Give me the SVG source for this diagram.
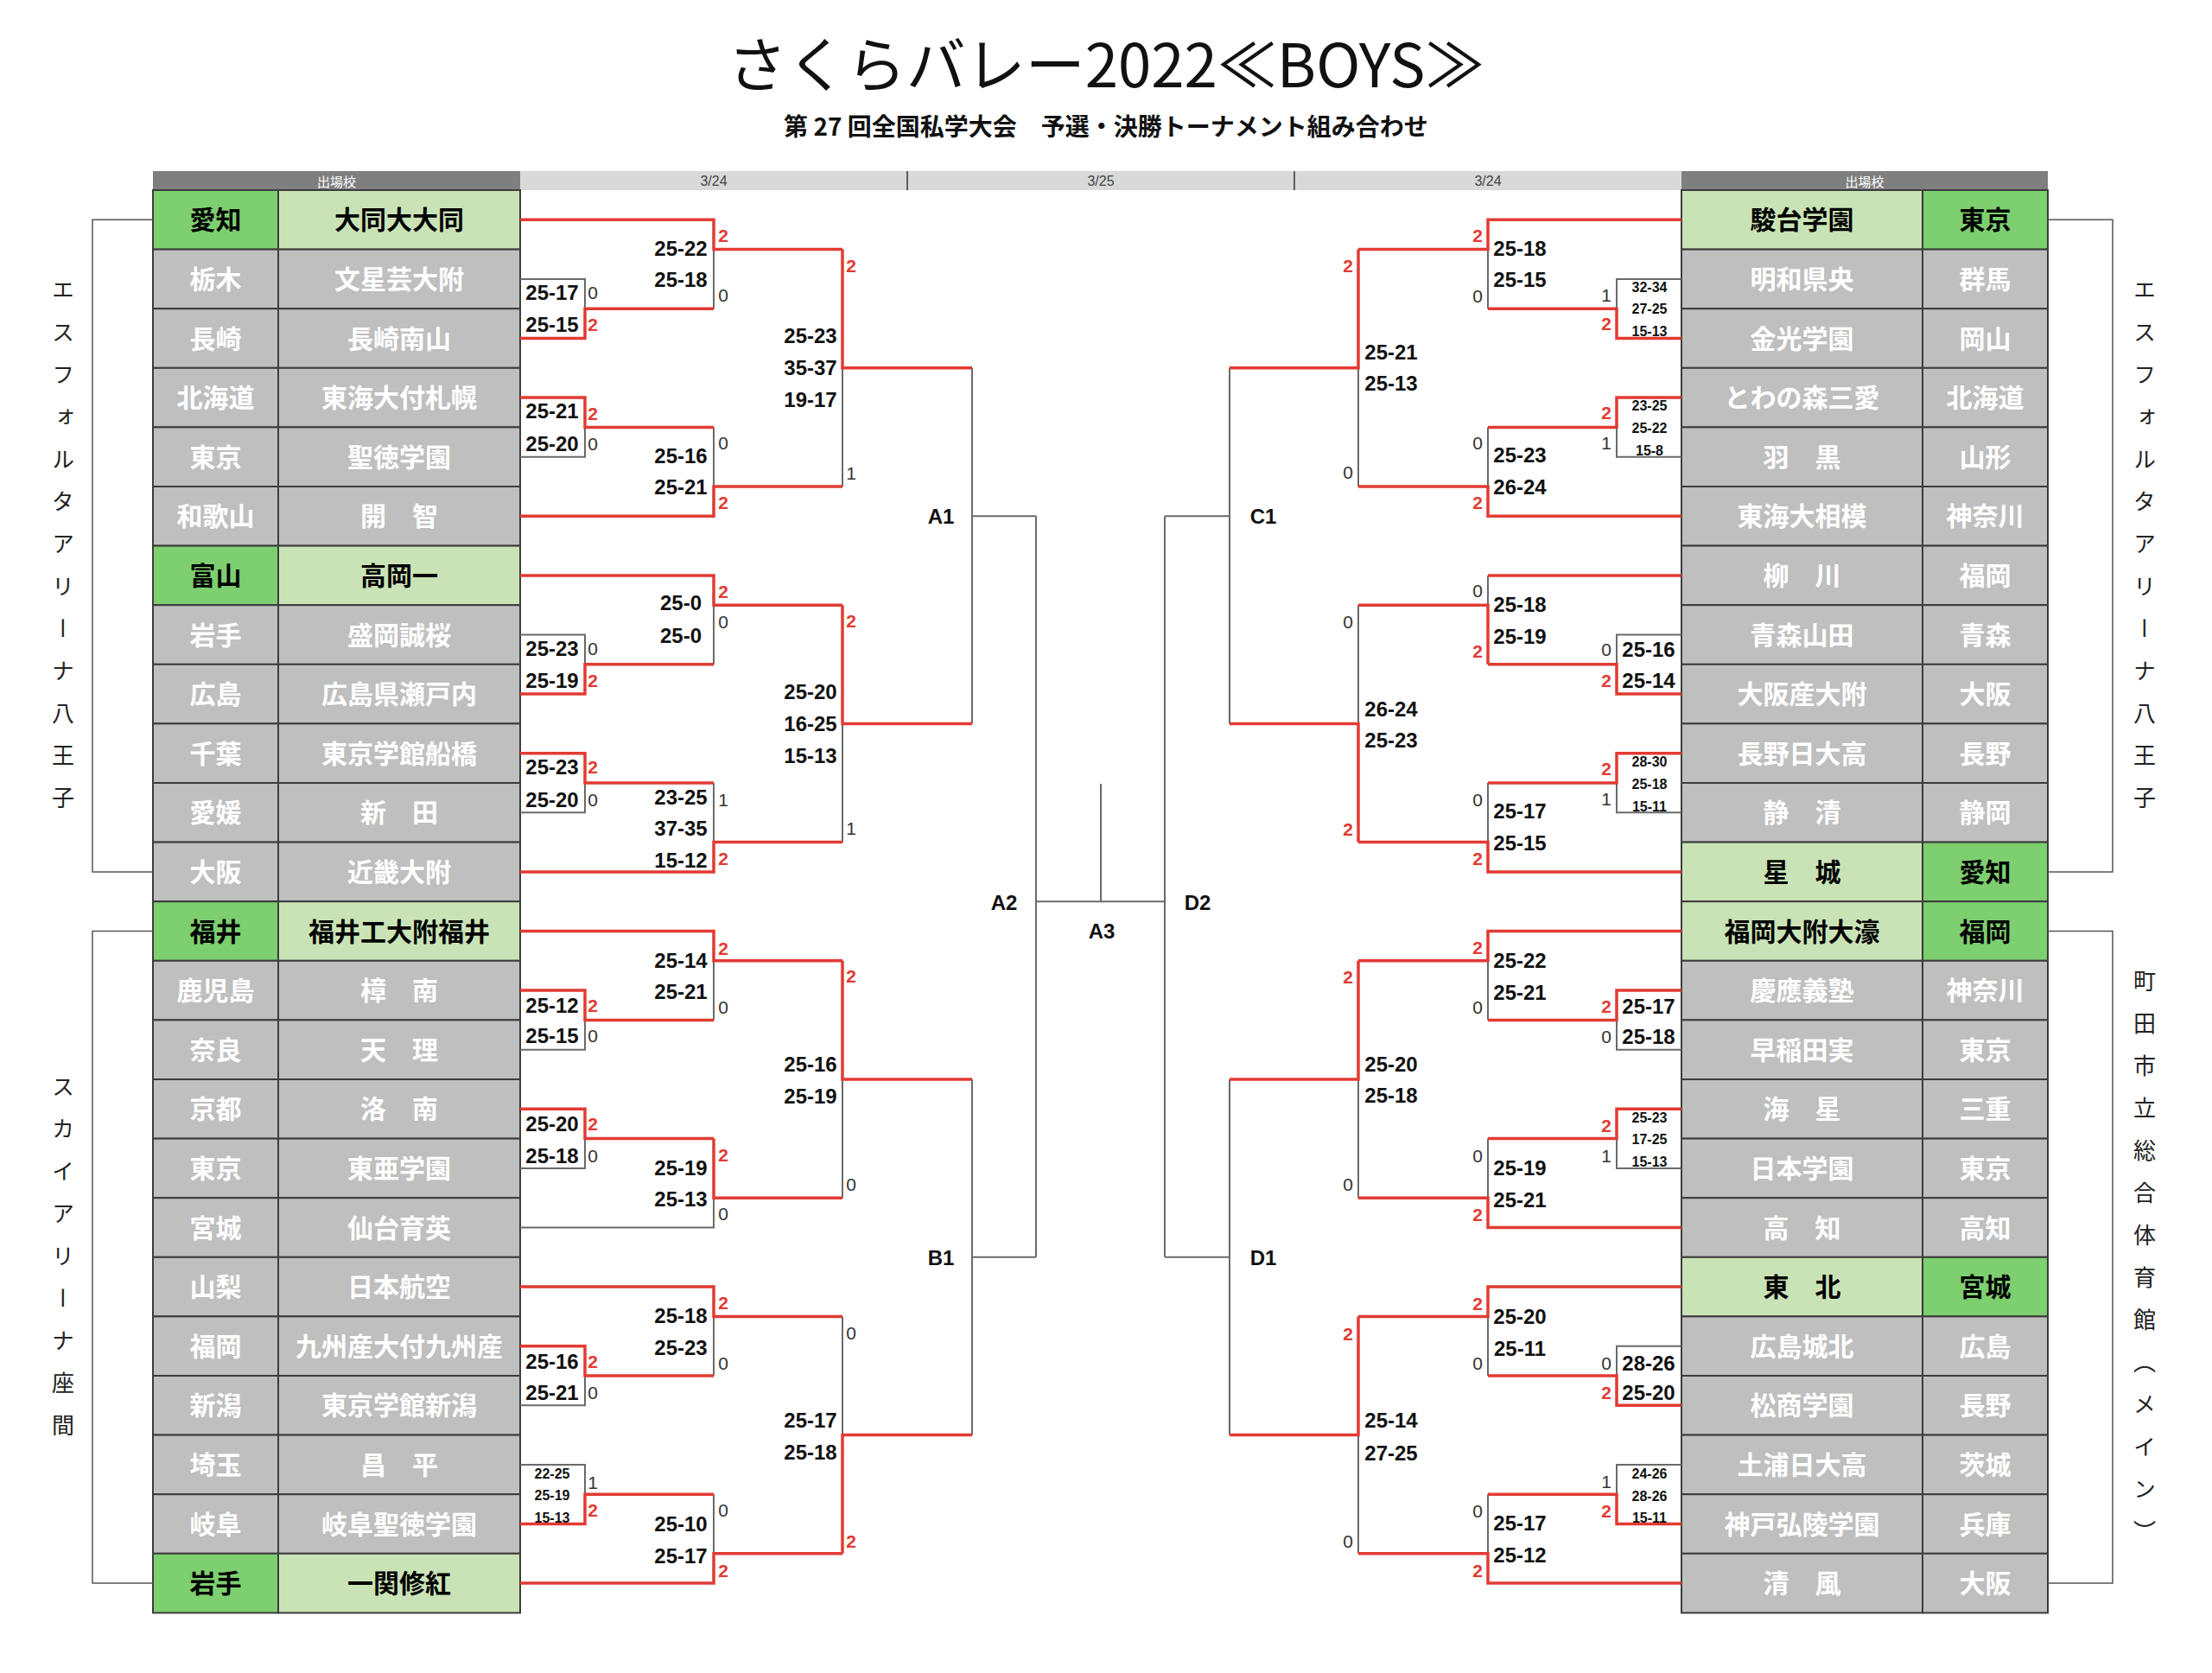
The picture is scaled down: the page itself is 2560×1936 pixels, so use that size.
<svg xmlns="http://www.w3.org/2000/svg" width="2560" height="1936" viewBox="0 0 2560 1936">
<style>
.bg{fill:#fff}
.hd{fill:#7f7f7f}
.hl{fill:#d9d9d9}
.ht{font-family:"Noto Sans CJK JP",sans-serif;font-size:15px;fill:#fff;text-anchor:middle;dominant-baseline:central}
.hd2{font-family:"Liberation Sans",Arial,sans-serif;font-size:16px;fill:#444;text-anchor:middle;dominant-baseline:central}
.pg{fill:#bfbfbf;stroke:#3c3c3c;stroke-width:2}
.ps{fill:#7dcf6f;stroke:#3c3c3c;stroke-width:2}
.ns{fill:#c9e3b6;stroke:#3c3c3c;stroke-width:2}
.tw{font-family:"Noto Sans CJK JP",sans-serif;font-weight:700;font-size:30px;fill:#fff;text-anchor:middle;dominant-baseline:central}
.tb{font-family:"Noto Sans CJK JP",sans-serif;font-weight:700;font-size:30px;fill:#000;text-anchor:middle;dominant-baseline:central}
.tm text{transform:translateY(-2px)}
.r{fill:none;stroke:#e23b33;stroke-width:3.5}
.g{fill:none;stroke:#6a6a6a;stroke-width:2}
.k{fill:none;stroke:#555;stroke-width:1.5}
.s{font-family:"Liberation Sans",Arial,sans-serif;font-weight:700;font-size:24px;fill:#111;text-anchor:middle;dominant-baseline:central}
.ss{font-family:"Liberation Sans",Arial,sans-serif;font-weight:700;font-size:16px;fill:#111;text-anchor:middle;dominant-baseline:central}
.w{font-family:"Liberation Sans",Arial,sans-serif;font-weight:700;font-size:21px;fill:#e23b33;text-anchor:middle;dominant-baseline:central}
.l{font-family:"Liberation Sans",Arial,sans-serif;font-size:21px;fill:#333;text-anchor:middle;dominant-baseline:central}
.lb{font-family:"Liberation Sans",Arial,sans-serif;font-weight:700;font-size:24px;fill:#111;text-anchor:middle;dominant-baseline:central}
.v{font-family:"Noto Sans CJK JP",sans-serif;font-size:26px;fill:#222;writing-mode:vertical-rl;letter-spacing:23px}
</style>
<rect class="bg" x="0" y="0" width="2560" height="1936"/>
<g id="title">
<text x="1280" y="101" font-family="Noto Sans CJK JP, sans-serif" font-size="69" fill="#111" text-anchor="middle">さくらバレー2022≪BOYS≫</text>
<text x="1280" y="157" font-family="Noto Sans CJK JP, sans-serif" font-weight="700" font-size="28" fill="#111" text-anchor="middle">第 27 回全国私学大会　予選・決勝トーナメント組み合わせ</text>
</g>
<g id="header">
<rect class="hd" x="177" y="198" width="425" height="22"/>
<rect class="hl" x="602" y="198" width="1344" height="22"/>
<rect class="hd" x="1946" y="198" width="424" height="22"/>
<line x1="1050" y1="198" x2="1050" y2="220" stroke="#333" stroke-width="1.5"/>
<line x1="1498" y1="198" x2="1498" y2="220" stroke="#333" stroke-width="1.5"/>
<text class="ht" x="389.5" y="209">出場校</text>
<text class="hd2" x="826" y="209">3/24</text>
<text class="hd2" x="1274" y="209">3/25</text>
<text class="hd2" x="1722" y="209">3/24</text>
<text class="ht" x="2158" y="209">出場校</text>
</g>
<g id="left-teams" class="tm">
<g id="L01"><rect class="ps" x="177" y="220" width="145" height="68.6"/><rect class="ns" x="322" y="220" width="280" height="68.6"/><text class="tb" x="249.5" y="254.3">愛知</text><text class="tb" x="462" y="254.3">大同大大同</text></g>
<g id="L02"><rect class="pg" x="177" y="288.6" width="145" height="68.6"/><rect class="pg" x="322" y="288.6" width="280" height="68.6"/><text class="tw" x="249.5" y="322.9">栃木</text><text class="tw" x="462" y="322.9">文星芸大附</text></g>
<g id="L03"><rect class="pg" x="177" y="357.2" width="145" height="68.6"/><rect class="pg" x="322" y="357.2" width="280" height="68.6"/><text class="tw" x="249.5" y="391.5">長崎</text><text class="tw" x="462" y="391.5">長崎南山</text></g>
<g id="L04"><rect class="pg" x="177" y="425.8" width="145" height="68.6"/><rect class="pg" x="322" y="425.8" width="280" height="68.6"/><text class="tw" x="249.5" y="460.1">北海道</text><text class="tw" x="462" y="460.1">東海大付札幌</text></g>
<g id="L05"><rect class="pg" x="177" y="494.4" width="145" height="68.6"/><rect class="pg" x="322" y="494.4" width="280" height="68.6"/><text class="tw" x="249.5" y="528.7">東京</text><text class="tw" x="462" y="528.7">聖徳学園</text></g>
<g id="L06"><rect class="pg" x="177" y="563" width="145" height="68.6"/><rect class="pg" x="322" y="563" width="280" height="68.6"/><text class="tw" x="249.5" y="597.3">和歌山</text><text class="tw" x="462" y="597.3">開　智</text></g>
<g id="L07"><rect class="ps" x="177" y="631.6" width="145" height="68.6"/><rect class="ns" x="322" y="631.6" width="280" height="68.6"/><text class="tb" x="249.5" y="665.9">富山</text><text class="tb" x="462" y="665.9">高岡一</text></g>
<g id="L08"><rect class="pg" x="177" y="700.2" width="145" height="68.6"/><rect class="pg" x="322" y="700.2" width="280" height="68.6"/><text class="tw" x="249.5" y="734.5">岩手</text><text class="tw" x="462" y="734.5">盛岡誠桜</text></g>
<g id="L09"><rect class="pg" x="177" y="768.8" width="145" height="68.6"/><rect class="pg" x="322" y="768.8" width="280" height="68.6"/><text class="tw" x="249.5" y="803.1">広島</text><text class="tw" x="462" y="803.1">広島県瀬戸内</text></g>
<g id="L10"><rect class="pg" x="177" y="837.4" width="145" height="68.6"/><rect class="pg" x="322" y="837.4" width="280" height="68.6"/><text class="tw" x="249.5" y="871.7">千葉</text><text class="tw" x="462" y="871.7">東京学館船橋</text></g>
<g id="L11"><rect class="pg" x="177" y="906" width="145" height="68.6"/><rect class="pg" x="322" y="906" width="280" height="68.6"/><text class="tw" x="249.5" y="940.3">愛媛</text><text class="tw" x="462" y="940.3">新　田</text></g>
<g id="L12"><rect class="pg" x="177" y="974.6" width="145" height="68.6"/><rect class="pg" x="322" y="974.6" width="280" height="68.6"/><text class="tw" x="249.5" y="1008.9">大阪</text><text class="tw" x="462" y="1008.9">近畿大附</text></g>
<g id="L13"><rect class="ps" x="177" y="1043.2" width="145" height="68.6"/><rect class="ns" x="322" y="1043.2" width="280" height="68.6"/><text class="tb" x="249.5" y="1077.5">福井</text><text class="tb" x="462" y="1077.5">福井工大附福井</text></g>
<g id="L14"><rect class="pg" x="177" y="1111.8" width="145" height="68.6"/><rect class="pg" x="322" y="1111.8" width="280" height="68.6"/><text class="tw" x="249.5" y="1146.1">鹿児島</text><text class="tw" x="462" y="1146.1">樟　南</text></g>
<g id="L15"><rect class="pg" x="177" y="1180.4" width="145" height="68.6"/><rect class="pg" x="322" y="1180.4" width="280" height="68.6"/><text class="tw" x="249.5" y="1214.7">奈良</text><text class="tw" x="462" y="1214.7">天　理</text></g>
<g id="L16"><rect class="pg" x="177" y="1249" width="145" height="68.6"/><rect class="pg" x="322" y="1249" width="280" height="68.6"/><text class="tw" x="249.5" y="1283.3">京都</text><text class="tw" x="462" y="1283.3">洛　南</text></g>
<g id="L17"><rect class="pg" x="177" y="1317.6" width="145" height="68.6"/><rect class="pg" x="322" y="1317.6" width="280" height="68.6"/><text class="tw" x="249.5" y="1351.9">東京</text><text class="tw" x="462" y="1351.9">東亜学園</text></g>
<g id="L18"><rect class="pg" x="177" y="1386.2" width="145" height="68.6"/><rect class="pg" x="322" y="1386.2" width="280" height="68.6"/><text class="tw" x="249.5" y="1420.5">宮城</text><text class="tw" x="462" y="1420.5">仙台育英</text></g>
<g id="L19"><rect class="pg" x="177" y="1454.8" width="145" height="68.6"/><rect class="pg" x="322" y="1454.8" width="280" height="68.6"/><text class="tw" x="249.5" y="1489.1">山梨</text><text class="tw" x="462" y="1489.1">日本航空</text></g>
<g id="L20"><rect class="pg" x="177" y="1523.4" width="145" height="68.6"/><rect class="pg" x="322" y="1523.4" width="280" height="68.6"/><text class="tw" x="249.5" y="1557.7">福岡</text><text class="tw" x="462" y="1557.7">九州産大付九州産</text></g>
<g id="L21"><rect class="pg" x="177" y="1592" width="145" height="68.6"/><rect class="pg" x="322" y="1592" width="280" height="68.6"/><text class="tw" x="249.5" y="1626.3">新潟</text><text class="tw" x="462" y="1626.3">東京学館新潟</text></g>
<g id="L22"><rect class="pg" x="177" y="1660.6" width="145" height="68.6"/><rect class="pg" x="322" y="1660.6" width="280" height="68.6"/><text class="tw" x="249.5" y="1694.9">埼玉</text><text class="tw" x="462" y="1694.9">昌　平</text></g>
<g id="L23"><rect class="pg" x="177" y="1729.2" width="145" height="68.6"/><rect class="pg" x="322" y="1729.2" width="280" height="68.6"/><text class="tw" x="249.5" y="1763.5">岐阜</text><text class="tw" x="462" y="1763.5">岐阜聖徳学園</text></g>
<g id="L24"><rect class="ps" x="177" y="1797.8" width="145" height="68.6"/><rect class="ns" x="322" y="1797.8" width="280" height="68.6"/><text class="tb" x="249.5" y="1832.1">岩手</text><text class="tb" x="462" y="1832.1">一関修紅</text></g>
</g>
<g id="right-teams" class="tm">
<g id="R01"><rect class="ns" x="1946" y="220" width="279" height="68.6"/><rect class="ps" x="2225" y="220" width="145" height="68.6"/><text class="tb" x="2085.5" y="254.3">駿台学園</text><text class="tb" x="2297.5" y="254.3">東京</text></g>
<g id="R02"><rect class="pg" x="1946" y="288.6" width="279" height="68.6"/><rect class="pg" x="2225" y="288.6" width="145" height="68.6"/><text class="tw" x="2085.5" y="322.9">明和県央</text><text class="tw" x="2297.5" y="322.9">群馬</text></g>
<g id="R03"><rect class="pg" x="1946" y="357.2" width="279" height="68.6"/><rect class="pg" x="2225" y="357.2" width="145" height="68.6"/><text class="tw" x="2085.5" y="391.5">金光学園</text><text class="tw" x="2297.5" y="391.5">岡山</text></g>
<g id="R04"><rect class="pg" x="1946" y="425.8" width="279" height="68.6"/><rect class="pg" x="2225" y="425.8" width="145" height="68.6"/><text class="tw" x="2085.5" y="460.1">とわの森三愛</text><text class="tw" x="2297.5" y="460.1">北海道</text></g>
<g id="R05"><rect class="pg" x="1946" y="494.4" width="279" height="68.6"/><rect class="pg" x="2225" y="494.4" width="145" height="68.6"/><text class="tw" x="2085.5" y="528.7">羽　黒</text><text class="tw" x="2297.5" y="528.7">山形</text></g>
<g id="R06"><rect class="pg" x="1946" y="563" width="279" height="68.6"/><rect class="pg" x="2225" y="563" width="145" height="68.6"/><text class="tw" x="2085.5" y="597.3">東海大相模</text><text class="tw" x="2297.5" y="597.3">神奈川</text></g>
<g id="R07"><rect class="pg" x="1946" y="631.6" width="279" height="68.6"/><rect class="pg" x="2225" y="631.6" width="145" height="68.6"/><text class="tw" x="2085.5" y="665.9">柳　川</text><text class="tw" x="2297.5" y="665.9">福岡</text></g>
<g id="R08"><rect class="pg" x="1946" y="700.2" width="279" height="68.6"/><rect class="pg" x="2225" y="700.2" width="145" height="68.6"/><text class="tw" x="2085.5" y="734.5">青森山田</text><text class="tw" x="2297.5" y="734.5">青森</text></g>
<g id="R09"><rect class="pg" x="1946" y="768.8" width="279" height="68.6"/><rect class="pg" x="2225" y="768.8" width="145" height="68.6"/><text class="tw" x="2085.5" y="803.1">大阪産大附</text><text class="tw" x="2297.5" y="803.1">大阪</text></g>
<g id="R10"><rect class="pg" x="1946" y="837.4" width="279" height="68.6"/><rect class="pg" x="2225" y="837.4" width="145" height="68.6"/><text class="tw" x="2085.5" y="871.7">長野日大高</text><text class="tw" x="2297.5" y="871.7">長野</text></g>
<g id="R11"><rect class="pg" x="1946" y="906" width="279" height="68.6"/><rect class="pg" x="2225" y="906" width="145" height="68.6"/><text class="tw" x="2085.5" y="940.3">静　清</text><text class="tw" x="2297.5" y="940.3">静岡</text></g>
<g id="R12"><rect class="ns" x="1946" y="974.6" width="279" height="68.6"/><rect class="ps" x="2225" y="974.6" width="145" height="68.6"/><text class="tb" x="2085.5" y="1008.9">星　城</text><text class="tb" x="2297.5" y="1008.9">愛知</text></g>
<g id="R13"><rect class="ns" x="1946" y="1043.2" width="279" height="68.6"/><rect class="ps" x="2225" y="1043.2" width="145" height="68.6"/><text class="tb" x="2085.5" y="1077.5">福岡大附大濠</text><text class="tb" x="2297.5" y="1077.5">福岡</text></g>
<g id="R14"><rect class="pg" x="1946" y="1111.8" width="279" height="68.6"/><rect class="pg" x="2225" y="1111.8" width="145" height="68.6"/><text class="tw" x="2085.5" y="1146.1">慶應義塾</text><text class="tw" x="2297.5" y="1146.1">神奈川</text></g>
<g id="R15"><rect class="pg" x="1946" y="1180.4" width="279" height="68.6"/><rect class="pg" x="2225" y="1180.4" width="145" height="68.6"/><text class="tw" x="2085.5" y="1214.7">早稲田実</text><text class="tw" x="2297.5" y="1214.7">東京</text></g>
<g id="R16"><rect class="pg" x="1946" y="1249" width="279" height="68.6"/><rect class="pg" x="2225" y="1249" width="145" height="68.6"/><text class="tw" x="2085.5" y="1283.3">海　星</text><text class="tw" x="2297.5" y="1283.3">三重</text></g>
<g id="R17"><rect class="pg" x="1946" y="1317.6" width="279" height="68.6"/><rect class="pg" x="2225" y="1317.6" width="145" height="68.6"/><text class="tw" x="2085.5" y="1351.9">日本学園</text><text class="tw" x="2297.5" y="1351.9">東京</text></g>
<g id="R18"><rect class="pg" x="1946" y="1386.2" width="279" height="68.6"/><rect class="pg" x="2225" y="1386.2" width="145" height="68.6"/><text class="tw" x="2085.5" y="1420.5">高　知</text><text class="tw" x="2297.5" y="1420.5">高知</text></g>
<g id="R19"><rect class="ns" x="1946" y="1454.8" width="279" height="68.6"/><rect class="ps" x="2225" y="1454.8" width="145" height="68.6"/><text class="tb" x="2085.5" y="1489.1">東　北</text><text class="tb" x="2297.5" y="1489.1">宮城</text></g>
<g id="R20"><rect class="pg" x="1946" y="1523.4" width="279" height="68.6"/><rect class="pg" x="2225" y="1523.4" width="145" height="68.6"/><text class="tw" x="2085.5" y="1557.7">広島城北</text><text class="tw" x="2297.5" y="1557.7">広島</text></g>
<g id="R21"><rect class="pg" x="1946" y="1592" width="279" height="68.6"/><rect class="pg" x="2225" y="1592" width="145" height="68.6"/><text class="tw" x="2085.5" y="1626.3">松商学園</text><text class="tw" x="2297.5" y="1626.3">長野</text></g>
<g id="R22"><rect class="pg" x="1946" y="1660.6" width="279" height="68.6"/><rect class="pg" x="2225" y="1660.6" width="145" height="68.6"/><text class="tw" x="2085.5" y="1694.9">土浦日大高</text><text class="tw" x="2297.5" y="1694.9">茨城</text></g>
<g id="R23"><rect class="pg" x="1946" y="1729.2" width="279" height="68.6"/><rect class="pg" x="2225" y="1729.2" width="145" height="68.6"/><text class="tw" x="2085.5" y="1763.5">神戸弘陵学園</text><text class="tw" x="2297.5" y="1763.5">兵庫</text></g>
<g id="R24"><rect class="pg" x="1946" y="1797.8" width="279" height="68.6"/><rect class="pg" x="2225" y="1797.8" width="145" height="68.6"/><text class="tw" x="2085.5" y="1832.1">清　風</text><text class="tw" x="2297.5" y="1832.1">大阪</text></g>
</g>
<g id="connectors">
<path class="k" d="M177,254.3H107V1008.9H177M177,1077.5H107V1832.1H177M2370,254.3H2445V1008.9H2370M2370,1077.5H2445V1832.1H2370"/>
<path class="g" d="M602,322.9H677V357.2M826,288.6V357.2M602,528.7H677V494.4M826,494.4V563M975,425.8V563
M602,734.5H677V768.8M826,700.2V768.8M602,940.3H677V906M826,906V974.6M975,837.4V974.6
M602,1214.7H677V1180.4M826,1111.8V1180.4M602,1351.9H677V1317.6M602,1420.5H826V1386.2M975,1249V1386.2
M602,1626.3H677V1592M826,1523.4V1592M602,1694.9H677V1729.2M826,1729.2V1797.8M975,1523.4V1660.6
M1125,425.8V837.4M1125,597.3H1199M1125,1249V1660.6M1125,1454.8H1199M1199,597.3V1454.8M1199,1043.2H1348M1274,907V1043.2M1348,597.3V1454.8M1348,597.3H1423M1423,425.8V837.4M1348,1454.8H1423M1423,1249V1660.6
M1722,288.6V357.2M1946,322.9H1871V357.2M1946,528.7H1871V494.4M1722,494.4V563M1572,425.8V563
M1946,734.5H1871V768.8M1722,665.9V700.2M1946,940.3H1871V906M1722,906V974.6M1572,700.2V837.4
M1722,1111.8V1180.4M1946,1214.7H1871V1180.4M1946,1351.9H1871V1317.6M1722,1317.6V1386.2M1572,1249V1386.2
M1722,1523.4V1592M1946,1557.7H1871V1592M1946,1694.9H1871V1729.2M1722,1729.2V1797.8M1572,1660.6V1797.8"/>
<path class="r" d="M602,391.5H677V357.2H826M602,254.3H826V288.6H975M602,460.1H677V494.4H826M602,597.3H826V563H975M975,288.6V425.8H1125
M602,803.1H677V768.8H826M602,665.9H826V700.2H975M602,871.7H677V906H826M602,1008.9H826V974.6H975M975,700.2V837.4H1125
M602,1146.1H677V1180.4H826M602,1077.5H826V1111.8H975M602,1283.3H677V1317.6H826M826,1317.6V1386.2H975M975,1111.8V1249H1125
M602,1557.7H677V1592H826M602,1489.1H826V1523.4H975M602,1763.5H677V1729.2H826M602,1832.1H826V1797.8H975M975,1797.8V1660.6H1125
M1946,254.3H1722V288.6H1572M1946,391.5H1871V357.2H1722M1946,460.1H1871V494.4H1722M1946,597.3H1722V563H1572M1572,288.6V425.8H1423
M1946,803.1H1871V768.8H1722M1946,665.9H1722M1722,768.8V700.2H1572M1946,871.7H1871V906H1722M1946,1008.9H1722V974.6H1572M1572,974.6V837.4H1423
M1946,1077.5H1722V1111.8H1572M1946,1146.1H1871V1180.4H1722M1946,1283.3H1871V1317.6H1722M1946,1420.5H1722V1386.2H1572M1572,1111.8V1249H1423
M1946,1489.1H1722V1523.4H1572M1946,1626.3H1871V1592H1722M1946,1763.5H1871V1729.2H1722M1946,1832.1H1722V1797.8H1572M1572,1523.4V1660.6H1423"/>
</g>
<g id="left-scores">
<g id="LG1">
<text class="s" x="639" y="338">25-17</text><text class="s" x="639" y="375">25-15</text><text class="l" x="686" y="338">0</text><text class="w" x="686" y="375">2</text>
<text class="s" x="788" y="287">25-22</text><text class="s" x="788" y="323">25-18</text><text class="w" x="837" y="272">2</text><text class="l" x="837" y="341">0</text>
<text class="s" x="639" y="475">25-21</text><text class="s" x="639" y="513">25-20</text><text class="w" x="686" y="478">2</text><text class="l" x="686" y="513">0</text>
<text class="s" x="788" y="527">25-16</text><text class="s" x="788" y="563">25-21</text><text class="l" x="837" y="512">0</text><text class="w" x="837" y="581">2</text>
<text class="s" x="938" y="388">25-23</text><text class="s" x="938" y="425">35-37</text><text class="s" x="938" y="462">19-17</text><text class="w" x="985" y="307">2</text><text class="l" x="985" y="547">1</text>
</g>
<g id="LG2">
<text class="s" x="788" y="697">25-0</text><text class="s" x="788" y="735">25-0</text><text class="w" x="837" y="684">2</text><text class="l" x="837" y="719">0</text>
<text class="s" x="639" y="750">25-23</text><text class="s" x="639" y="787">25-19</text><text class="l" x="686" y="750">0</text><text class="w" x="686" y="787">2</text>
<text class="s" x="639" y="887">25-23</text><text class="s" x="639" y="925">25-20</text><text class="w" x="686" y="887">2</text><text class="l" x="686" y="925">0</text>
<text class="s" x="788" y="922">23-25</text><text class="s" x="788" y="958">37-35</text><text class="s" x="788" y="995">15-12</text><text class="l" x="837" y="925">1</text><text class="w" x="837" y="993">2</text>
<text class="s" x="938" y="800">25-20</text><text class="s" x="938" y="837">16-25</text><text class="s" x="938" y="874">15-13</text><text class="w" x="985" y="718">2</text><text class="l" x="985" y="958">1</text>
</g>
<g id="LG3">
<text class="s" x="788" y="1111">25-14</text><text class="s" x="788" y="1147">25-21</text><text class="w" x="837" y="1097">2</text><text class="l" x="837" y="1165">0</text>
<text class="s" x="639" y="1163">25-12</text><text class="s" x="639" y="1198">25-15</text><text class="w" x="686" y="1163">2</text><text class="l" x="686" y="1198">0</text>
<text class="s" x="938" y="1231">25-16</text><text class="s" x="938" y="1268">25-19</text><text class="w" x="985" y="1129">2</text><text class="l" x="985" y="1370">0</text>
<text class="s" x="639" y="1300">25-20</text><text class="s" x="639" y="1337">25-18</text><text class="w" x="686" y="1300">2</text><text class="l" x="686" y="1337">0</text>
<text class="s" x="788" y="1351">25-19</text><text class="s" x="788" y="1387">25-13</text><text class="w" x="837" y="1336">2</text><text class="l" x="837" y="1404">0</text>
</g>
<g id="LG4">
<text class="s" x="788" y="1522">25-18</text><text class="s" x="788" y="1559">25-23</text><text class="w" x="837" y="1507">2</text><text class="l" x="837" y="1577">0</text>
<text class="s" x="639" y="1575">25-16</text><text class="s" x="639" y="1611">25-21</text><text class="w" x="686" y="1575">2</text><text class="l" x="686" y="1611">0</text>
<text class="s" x="938" y="1643">25-17</text><text class="s" x="938" y="1680">25-18</text><text class="l" x="985" y="1542">0</text><text class="w" x="985" y="1783">2</text>
<text class="ss" x="639" y="1705">22-25</text><text class="ss" x="639" y="1730">25-19</text><text class="ss" x="639" y="1756">15-13</text><text class="l" x="686" y="1715">1</text><text class="w" x="686" y="1747">2</text>
<text class="s" x="788" y="1763">25-10</text><text class="s" x="788" y="1800">25-17</text><text class="l" x="837" y="1747">0</text><text class="w" x="837" y="1817">2</text>
</g>
</g>
<g id="right-scores">
<g id="RG1">
<text class="s" x="1759" y="287">25-18</text><text class="s" x="1759" y="323">25-15</text><text class="w" x="1710" y="272">2</text><text class="l" x="1710" y="342">0</text>
<text class="ss" x="1909" y="332">32-34</text><text class="ss" x="1909" y="357">27-25</text><text class="ss" x="1909" y="383">15-13</text><text class="l" x="1859" y="341">1</text><text class="w" x="1859" y="374">2</text>
<text class="s" x="1610" y="407">25-21</text><text class="s" x="1610" y="443">25-13</text><text class="w" x="1560" y="307">2</text><text class="l" x="1560" y="546">0</text>
<text class="ss" x="1909" y="469">23-25</text><text class="ss" x="1909" y="495">25-22</text><text class="ss" x="1909" y="521">15-8</text><text class="w" x="1859" y="477">2</text><text class="l" x="1859" y="512">1</text>
<text class="s" x="1759" y="526">25-23</text><text class="s" x="1759" y="563">26-24</text><text class="l" x="1710" y="512">0</text><text class="w" x="1710" y="581">2</text>
</g>
<g id="RG2">
<text class="s" x="1759" y="699">25-18</text><text class="s" x="1759" y="736">25-19</text><text class="l" x="1710" y="683">0</text><text class="w" x="1710" y="753">2</text>
<text class="s" x="1908" y="751">25-16</text><text class="s" x="1908" y="787">25-14</text><text class="l" x="1859" y="751">0</text><text class="w" x="1859" y="787">2</text>
<text class="s" x="1610" y="820">26-24</text><text class="s" x="1610" y="856">25-23</text><text class="l" x="1560" y="719">0</text><text class="w" x="1560" y="959">2</text>
<text class="ss" x="1909" y="881">28-30</text><text class="ss" x="1909" y="907">25-18</text><text class="ss" x="1909" y="933">15-11</text><text class="w" x="1859" y="889">2</text><text class="l" x="1859" y="924">1</text>
<text class="s" x="1759" y="938">25-17</text><text class="s" x="1759" y="975">25-15</text><text class="l" x="1710" y="925">0</text><text class="w" x="1710" y="993">2</text>
</g>
<g id="RG3">
<text class="s" x="1759" y="1111">25-22</text><text class="s" x="1759" y="1148">25-21</text><text class="w" x="1710" y="1096">2</text><text class="l" x="1710" y="1165">0</text>
<text class="s" x="1908" y="1164">25-17</text><text class="s" x="1908" y="1199">25-18</text><text class="w" x="1859" y="1164">2</text><text class="l" x="1859" y="1199">0</text>
<text class="s" x="1610" y="1231">25-20</text><text class="s" x="1610" y="1267">25-18</text><text class="w" x="1560" y="1130">2</text><text class="l" x="1560" y="1370">0</text>
<text class="ss" x="1909" y="1293">25-23</text><text class="ss" x="1909" y="1318">17-25</text><text class="ss" x="1909" y="1344">15-13</text><text class="w" x="1859" y="1302">2</text><text class="l" x="1859" y="1337">1</text>
<text class="s" x="1759" y="1351">25-19</text><text class="s" x="1759" y="1388">25-21</text><text class="l" x="1710" y="1337">0</text><text class="w" x="1710" y="1405">2</text>
</g>
<g id="RG4">
<text class="s" x="1759" y="1523">25-20</text><text class="s" x="1759" y="1560">25-11</text><text class="w" x="1710" y="1508">2</text><text class="l" x="1710" y="1577">0</text>
<text class="s" x="1908" y="1577">28-26</text><text class="s" x="1908" y="1611">25-20</text><text class="l" x="1859" y="1577">0</text><text class="w" x="1859" y="1611">2</text>
<text class="s" x="1610" y="1643">25-14</text><text class="s" x="1610" y="1681">27-25</text><text class="w" x="1560" y="1543">2</text><text class="l" x="1560" y="1783">0</text>
<text class="ss" x="1909" y="1705">24-26</text><text class="ss" x="1909" y="1731">28-26</text><text class="ss" x="1909" y="1756">15-11</text><text class="l" x="1859" y="1714">1</text><text class="w" x="1859" y="1748">2</text>
<text class="s" x="1759" y="1762">25-17</text><text class="s" x="1759" y="1799">25-12</text><text class="l" x="1710" y="1748">0</text><text class="w" x="1710" y="1817">2</text>
</g>
</g>
<g id="bracket-labels">
<text class="lb" x="1089" y="597">A1</text>
<text class="lb" x="1089" y="1455">B1</text>
<text class="lb" x="1162" y="1044">A2</text>
<text class="lb" x="1275" y="1077">A3</text>
<text class="lb" x="1386" y="1044">D2</text>
<text class="lb" x="1462" y="597">C1</text>
<text class="lb" x="1462" y="1455">D1</text>
</g>
<g id="venues">
<text class="v" x="73" y="322">エスフォルタアリーナ八王子</text>
<text class="v" x="73" y="1244">スカイアリーナ座間</text>
<text class="v" x="2482" y="322">エスフォルタアリーナ八王子</text>
<text class="v" x="2482" y="1122">町田市立総合体育館（メイン）</text>
</g>
</svg>
